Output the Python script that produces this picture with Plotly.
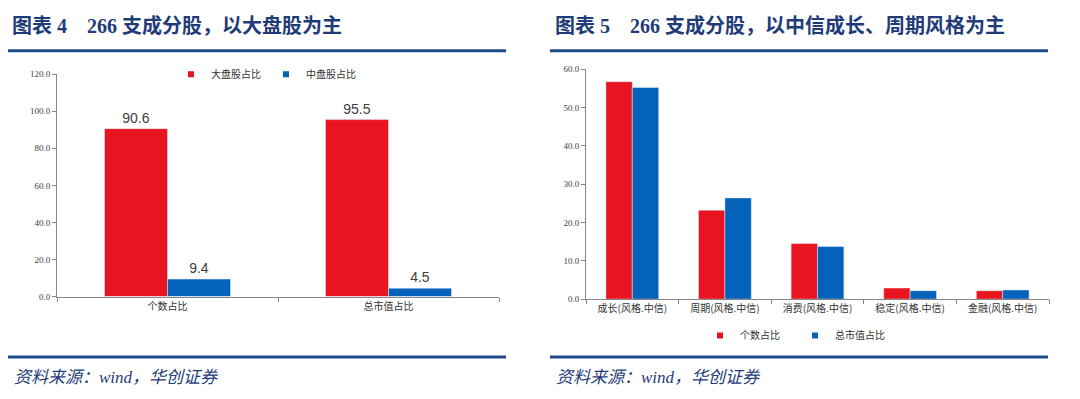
import plotly.graph_objects as go

# ---- data ----
left_categories = ["个数占比", "总市值占比"]
left_large = [90.6, 95.5]
left_mid = [9.4, 4.5]
left_names = ["大盘股占比", "中盘股占比"]

right_categories = ["成长(风格.中信)", "周期(风格.中信)", "消费(风格.中信)", "稳定(风格.中信)", "金融(风格.中信)"]
right_count = [56.7, 23.2, 14.5, 2.9, 2.2]
right_cap = [55.2, 26.4, 13.7, 2.2, 2.4]
right_names = ["个数占比", "总市值占比"]

title_left = "图表 4&nbsp;&nbsp;&nbsp;&nbsp;266 支成分股，以大盘股为主"
title_right = "图表 5&nbsp;&nbsp;&nbsp;&nbsp;266 支成分股，以中信成长、周期风格为主"
source_text = "资料来源：wind，华创证券"

RED = "#E8141F"
BLUE = "#0562BA"
NAVY = "#1F3C78"
W, H = 1080, 399

def px_x(p):
    return p / W

def px_y(p):
    return 1 - p / H

fig = go.Figure()

lbl_font = dict(size=14, color="#404040", family="Liberation Sans")
fig.add_trace(go.Bar(x=left_categories, y=left_large, name=left_names[0], marker_color=RED,
                     text=[f"{v:.1f}" for v in left_large], textposition="outside",
                     textfont=lbl_font, cliponaxis=False, showlegend=False,
                     xaxis="x", yaxis="y"))
fig.add_trace(go.Bar(x=left_categories, y=left_mid, name=left_names[1], marker_color=BLUE,
                     text=[f"{v:.1f}" for v in left_mid], textposition="outside",
                     textfont=lbl_font, cliponaxis=False, showlegend=False,
                     xaxis="x", yaxis="y"))

fig.add_trace(go.Bar(x=right_categories, y=right_count, name=right_names[0], marker_color=RED,
                     showlegend=False, xaxis="x2", yaxis="y2"))
fig.add_trace(go.Bar(x=right_categories, y=right_cap, name=right_names[1], marker_color=BLUE,
                     showlegend=False, xaxis="x2", yaxis="y2"))

# legend entries (small square swatches like the original)
for nm, col in zip(left_names, (RED, BLUE)):
    fig.add_trace(go.Scatter(x=[None], y=[None], mode="markers", name=nm,
                             marker=dict(symbol="square", size=6, color=col),
                             xaxis="x", yaxis="y", legend="legend"))
for nm, col in zip(right_names, (RED, BLUE)):
    fig.add_trace(go.Scatter(x=[None], y=[None], mode="markers", name=nm,
                             marker=dict(symbol="square", size=6, color=col),
                             xaxis="x2", yaxis="y2", legend="legend2"))

axis_common = dict(showline=True, linecolor="#868686", linewidth=1, ticks="outside",
                   ticklen=4, tickcolor="#868686", showgrid=False, zeroline=False,
                   tickfont=dict(size=9, color="#404040", family="Liberation Serif"))
xcommon = dict(axis_common)
xcommon["tickfont"] = dict(size=10, color="#333333", family="Noto Sans CJK SC")

fig.update_layout(
    width=W, height=H, margin=dict(l=0, r=0, t=0, b=0),
    paper_bgcolor="white", plot_bgcolor="white",
    barmode="group", bargap=0.43, bargroupgap=0,
    font=dict(family="Noto Sans CJK SC", color="#333333"),
    xaxis=dict(domain=[px_x(57), px_x(499)], anchor="y", tickson="boundaries", **xcommon),
    yaxis=dict(domain=[px_y(299), px_y(71)], anchor="x", range=[0, 120], dtick=20,
               tickformat=".1f", **axis_common),
    xaxis2=dict(domain=[px_x(586), px_x(1049)], anchor="y2", tickson="boundaries", **xcommon),
    yaxis2=dict(domain=[px_y(301.7), px_y(65.7)], anchor="x2", range=[0, 60], dtick=10,
                tickformat=".1f", **axis_common),
    legend=dict(orientation="h", x=px_x(171), y=px_y(71), xanchor="left", yanchor="middle",
                font=dict(size=10, color="#333333"), itemwidth=30, bgcolor="rgba(0,0,0,0)",
                entrywidth=50),
    legend2=dict(orientation="h", x=px_x(700), y=px_y(339), xanchor="left", yanchor="middle",
                 font=dict(size=10, color="#333333"), itemwidth=30, bgcolor="rgba(0,0,0,0)",
                 entrywidth=50),
    showlegend=True,
)

title_font = dict(family="Liberation Serif, Noto Sans CJK SC", size=20, color=NAVY)
fig.add_annotation(text="<b>" + title_left + "</b>", x=px_x(10), y=px_y(21), xref="paper", yref="paper",
                   xanchor="left", yanchor="middle", showarrow=False, font=title_font)
fig.add_annotation(text="<b>" + title_right + "</b>", x=px_x(553), y=px_y(21), xref="paper", yref="paper",
                   xanchor="left", yanchor="middle", showarrow=False, font=title_font)

src_font = dict(family="Liberation Serif, Noto Sans CJK SC", size=17, color=NAVY)
for x0 in (12, 554):
    fig.add_annotation(text="<i>" + source_text + "</i>", x=px_x(x0), y=px_y(382), xref="paper", yref="paper",
                       xanchor="left", yanchor="middle", showarrow=False, font=src_font)

for (a, b) in ((8, 506), (550, 1048)):
    for yy in (47, 361):
        fig.add_shape(type="line", xref="paper", yref="paper", x0=px_x(a), x1=px_x(b),
                      y0=px_y(yy), y1=px_y(yy), line=dict(color="#1F4A8C", width=3))

fig.write_html("out.html", config={"displayModeBar": False},
               post_script="document.body.style.margin='0';document.body.style.overflow='hidden';")
